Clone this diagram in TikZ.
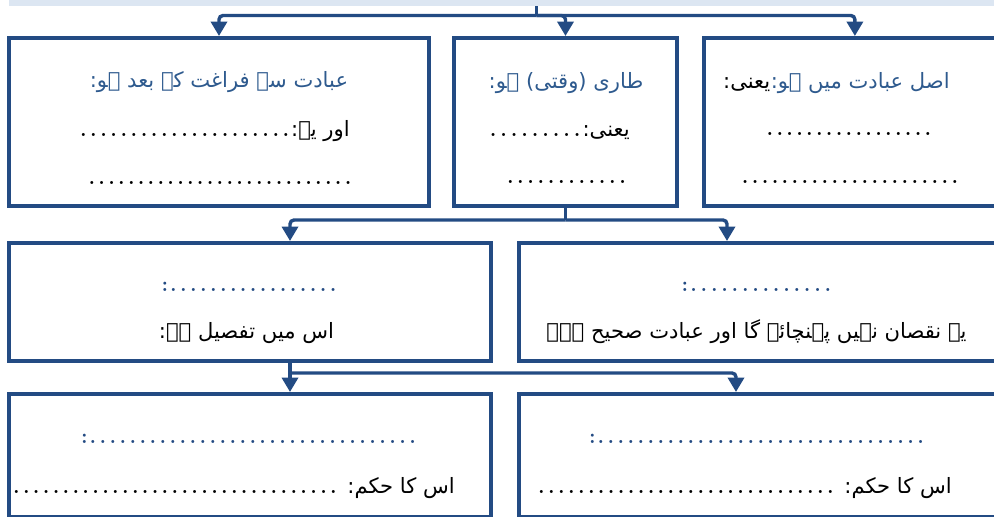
\documentclass[tikz,border=0pt]{standalone}
\usepackage{fontspec}
\usetikzlibrary{arrows.meta}
\TeXXeTstate=1
\newfontfamily\urdufont[Script=Arabic]{DejaVu Sans}
\definecolor{boxblue}{HTML}{234B83}
\definecolor{titleblue}{HTML}{2E5A8E}
\definecolor{bandblue}{HTML}{DCE6F2}
\newdimen\pxu \pxu=0.025cm
\newcommand{\dotrow}[1]{\hbox to #1\pxu{\xleaders\hbox to 7pt{\hss\rmfamily\bfseries.\hss}\hfill}}
\newcommand{\rtl}[1]{\beginR #1\endR}
\begin{document}
\begin{tikzpicture}[x=0.025cm, y=-0.025cm,
		box/.style={draw=boxblue, line width=1mm},
		conn/.style={draw=boxblue, line width=0.85mm, rounded corners=0.1cm},
		tip/.style={-{Triangle[length=0.36cm, width=0.4cm]}},
		txt/.style={inner sep=0, font=\urdufont\fontsize{15}{18}\selectfont}]
	\useasboundingbox (0,0) rectangle (994,516);
	\clip (0,0) rectangle (994,516);
	\node (0)[fill=bandblue, inner sep=0, minimum width=25cm, minimum height=0.14cm, anchor=north west] at (9,0) {};
	\begin{scope}[every node/.style={box, minimum height=4.2cm}]
		\node (1)[minimum width=10.5cm] at (219,122) {};
		\node (2)[minimum width=5.575cm] at (565.5,122) {};
		\node (3)[minimum width=7.325cm] at (850.5,122) {};
	\end{scope}
	\begin{scope}[every node/.style={box, minimum height=2.95cm}]
		\node (4)[minimum width=12.05cm] at (250,302) {};
		\node (5)[minimum width=11.95cm] at (758,302) {};
	\end{scope}
	\begin{scope}[every node/.style={box, minimum height=3.075cm}]
		\node (6)[minimum width=12.05cm] at (250,455.5) {};
		\node (7)[minimum width=11.95cm] at (758,455.5) {};
	\end{scope}
	\begin{scope}[every node/.style={txt}]
		\node (1a)[anchor=base, text=titleblue] at (219,87) {\rtl{عبادت سے فراغت کے بعد ہو:}};
		\node (1b)[anchor=base east] at (350,136) {\rtl{اور یہ:\dotrow{213}}};
		\node (1c)[anchor=base] at (220,184) {\dotrow{266}};
		\node (2a)[anchor=base, text=titleblue] at (566,88) {\rtl{طاری (وقتی) ہو:}};
		\node (2b)[anchor=base east] at (630,136) {\rtl{یعنی:\dotrow{95}}};
		\node (2c)[anchor=base] at (566.5,183) {\dotrow{123}};
		\node (3a)[anchor=base east, text=titleblue] at (950,88) {\rtl{اصل عبادت میں ہو:}};
		\node (3k)[anchor=base east] at (3a.base west) {\rtl{یعنی:}};
		\node (3b)[anchor=base] at (849,135) {\dotrow{168}};
		\node (3c)[anchor=base] at (850,183) {\dotrow{220}};
		\node (4a)[anchor=base, text=boxblue] at (250,291) {{\rmfamily\bfseries:}\dotrow{170}};
		\node (4b)[anchor=base] at (246.5,338) {\rtl{اس میں تفصیل ہے:}};
		\node (5a)[anchor=base, text=boxblue] at (757.5,291) {{\rmfamily\bfseries:}\dotrow{145}};
		\node (5b)[anchor=base] at (756.5,338) {\rtl{یہ نقصان نہیں پہنچائے گا اور عبادت صحیح ہے۔}};
		\node (6a)[anchor=base, text=boxblue] at (249.5,443) {{\rmfamily\bfseries:}\dotrow{330}};
		\node (6b)[anchor=base east] at (455,493) {\rtl{اس کا حکم: \dotrow{327}}};
		\node (7a)[anchor=base, text=boxblue] at (757.5,443) {{\rmfamily\bfseries:}\dotrow{330}};
		\node (7b)[anchor=base east] at (952,493) {\rtl{اس کا حکم: \dotrow{299}}};
	\end{scope}
	\coordinate (s1) at (536.5,15.5);
	\coordinate (s2) at (565.5,220);
	\coordinate (s3) at (290,373);
	\draw[conn] (0.south -| s1) -- (s1);
	\draw[conn, tip] (s1) -| (1.north);
	\draw[conn, tip] (s1) -| (2.north);
	\draw[conn, tip] (s1) -| ([xshift=0.11cm]3.north);
	\draw[conn] (2.south) -- (s2);
	\draw[conn, tip] (s2) -| ([xshift=1cm]4.north);
	\draw[conn, tip] (s2) -| ([xshift=-0.775cm]5.north);
	\draw[conn, tip] ([xshift=1cm]4.south) -- ([xshift=1cm]6.north);
	\draw[conn, tip] (s3) -| ([xshift=-0.55cm]7.north);
\end{tikzpicture}
\end{document}
